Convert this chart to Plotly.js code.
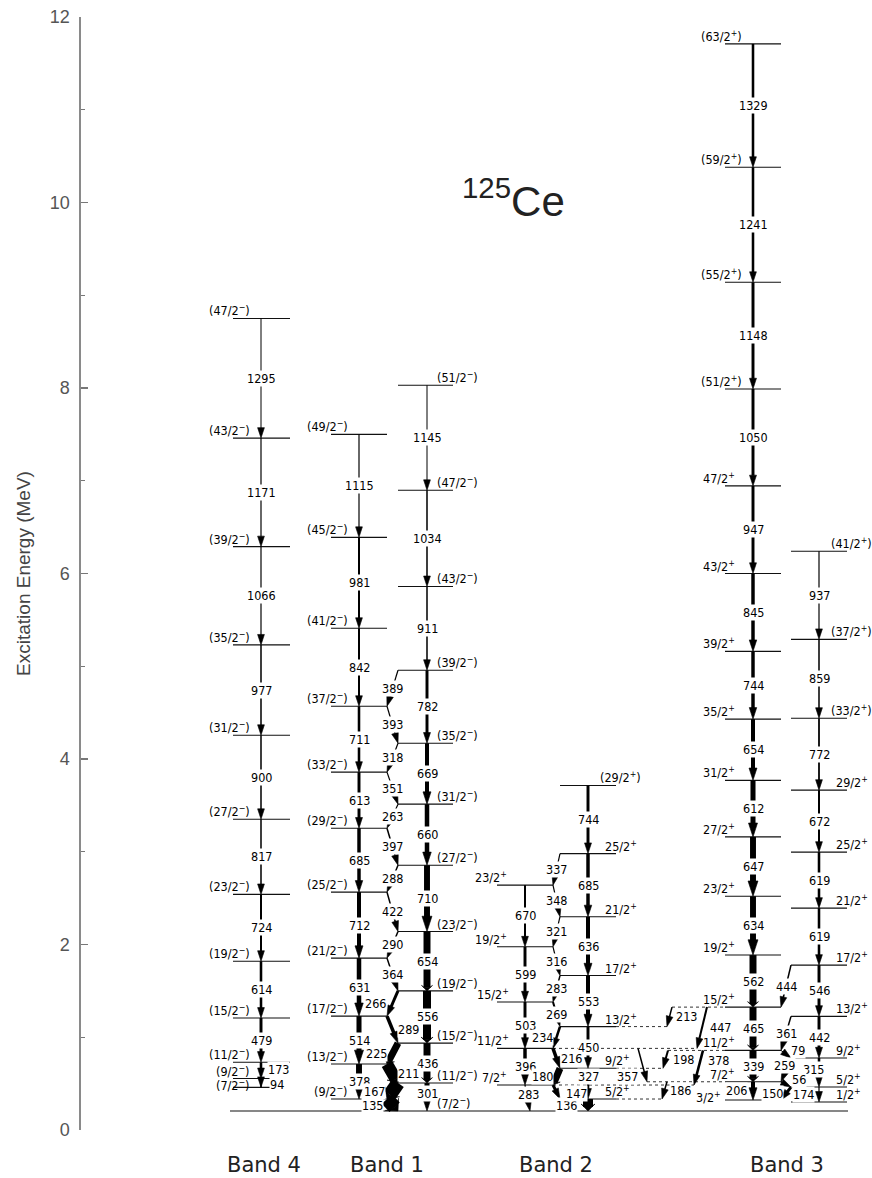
<!DOCTYPE html>
<html>
<head>
<meta charset="utf-8">
<script src="https://cdn.plot.ly/plotly-3.0.1.min.js"></script>
<style>
html,body{margin:0;padding:0;background:#ffffff;}
#chart{width:872px;height:1178px;}
</style>
</head>
<body>
<div id="chart"></div>
<script>
// ================= DATA (read from the level scheme) =================
const bandNames = ['Band 4', 'Band 1', 'Band 2', 'Band 3'];
const nucleusMass = '125';
const nucleusSymbol = 'Ce';
const axisTitle = 'Excitation Energy (MeV)';

// level spins and excitation energies (MeV, as plotted)
const band4Spins = ['(7/2-)','(9/2-)','(11/2-)','(15/2-)','(19/2-)','(23/2-)','(27/2-)','(31/2-)','(35/2-)','(39/2-)','(43/2-)','(47/2-)'];
const band4Energies = [0.46, 0.555, 0.73, 1.207, 1.82, 2.54, 3.35, 4.256, 5.23, 6.29, 7.46, 8.75];

const band1aSpins = ['(9/2-)','(13/2-)','(17/2-)','(21/2-)','(25/2-)','(29/2-)','(33/2-)','(37/2-)','(41/2-)','(45/2-)','(49/2-)'];
const band1aEnergies = [0.334, 0.711, 1.228, 1.853, 2.565, 3.254, 3.858, 4.569, 5.41, 6.39, 7.50];

const band1bSpins = ['(7/2-)','(11/2-)','(15/2-)','(19/2-)','(23/2-)','(27/2-)','(31/2-)','(35/2-)','(39/2-)','(43/2-)','(47/2-)','(51/2-)'];
const band1bEnergies = [0.205, 0.506, 0.937, 1.50, 2.14, 2.855, 3.513, 4.17, 4.957, 5.86, 6.897, 8.03];

const band2aSpins = ['7/2+','11/2+','15/2+','19/2+','23/2+'];
const band2aEnergies = [0.485, 0.88, 1.38, 1.975, 2.64];

const band2bSpins = ['5/2+','9/2+','13/2+','17/2+','21/2+','25/2+','(29/2+)'];
const band2bEnergies = [0.334, 0.665, 1.115, 1.665, 2.30, 2.98, 3.715];

const band3aSpins = ['3/2+','7/2+','11/2+','15/2+','19/2+','23/2+','27/2+','31/2+','35/2+','39/2+','43/2+','47/2+','(51/2+)','(55/2+)','(59/2+)','(63/2+)'];
const band3aEnergies = [0.323, 0.52, 0.858, 1.325, 1.886, 2.52, 3.16, 3.77, 4.43, 5.16, 6.0, 6.945, 7.99, 9.14, 10.38, 11.71];

const band3bSpins = ['1/2+','5/2+','9/2+','13/2+','17/2+','21/2+','25/2+','29/2+','(33/2+)','(37/2+)','(41/2+)'];
const band3bEnergies = [0.302, 0.463, 0.776, 1.225, 1.778, 2.392, 2.996, 3.664, 4.44, 5.29, 6.24];

// gamma transitions: energy label (keV), initial level, final level, relative intensity
const gammaEnergies = [
  1295,1171,1066,977,900,817,724,614,479,173,94,
  1115,981,842,711,613,685,712,631,514,378,
  1145,1034,911,782,669,660,710,654,556,436,301,
  389,393,318,351,263,397,288,422,290,364,266,289,225,211,167,135,
  670,599,503,396,283,
  744,685,636,553,450,327,136,
  337,348,321,316,283,269,234,216,180,147,
  1329,1241,1148,1050,947,845,744,654,612,647,634,562,465,339,206,
  937,859,772,672,619,619,546,442,315,174,
  444,361,79,259,56,150,
  213,447,198,378,357,186
];
const gammaFrom = [
  'B4|(47/2-)','B4|(43/2-)','B4|(39/2-)','B4|(35/2-)','B4|(31/2-)','B4|(27/2-)','B4|(23/2-)','B4|(19/2-)','B4|(15/2-)','B4|(11/2-)','B4|(9/2-)',
  'B1a|(49/2-)','B1a|(45/2-)','B1a|(41/2-)','B1a|(37/2-)','B1a|(33/2-)','B1a|(29/2-)','B1a|(25/2-)','B1a|(21/2-)','B1a|(17/2-)','B1a|(13/2-)',
  'B1b|(51/2-)','B1b|(47/2-)','B1b|(43/2-)','B1b|(39/2-)','B1b|(35/2-)','B1b|(31/2-)','B1b|(27/2-)','B1b|(23/2-)','B1b|(19/2-)','B1b|(15/2-)','B1b|(11/2-)',
  'B1b|(39/2-)','B1a|(37/2-)','B1b|(35/2-)','B1a|(33/2-)','B1b|(31/2-)','B1a|(29/2-)','B1b|(27/2-)','B1a|(25/2-)','B1b|(23/2-)','B1a|(21/2-)','B1b|(19/2-)','B1a|(17/2-)','B1b|(15/2-)','B1a|(13/2-)','B1b|(11/2-)','B1a|(9/2-)',
  'B2a|23/2+','B2a|19/2+','B2a|15/2+','B2a|11/2+','B2a|7/2+',
  'B2b|(29/2+)','B2b|25/2+','B2b|21/2+','B2b|17/2+','B2b|13/2+','B2b|9/2+','B2b|5/2+',
  'B2b|25/2+','B2a|23/2+','B2b|21/2+','B2a|19/2+','B2b|17/2+','B2a|15/2+','B2b|13/2+','B2a|11/2+','B2b|9/2+','B2a|7/2+',
  'B3a|(63/2+)','B3a|(59/2+)','B3a|(55/2+)','B3a|(51/2+)','B3a|47/2+','B3a|43/2+','B3a|39/2+','B3a|35/2+','B3a|31/2+','B3a|27/2+','B3a|23/2+','B3a|19/2+','B3a|15/2+','B3a|11/2+','B3a|7/2+',
  'B3b|(41/2+)','B3b|(37/2+)','B3b|(33/2+)','B3b|29/2+','B3b|25/2+','B3b|21/2+','B3b|17/2+','B3b|13/2+','B3b|9/2+','B3b|5/2+',
  'B3b|17/2+','B3b|13/2+','B3a|11/2+','B3b|9/2+','B3a|7/2+','B3b|5/2+',
  'B3a|15/2+','B3a|15/2+','B3a|11/2+','B3a|11/2+','B2a|11/2+','B3a|7/2+'
];
const gammaTo = [
  'B4|(43/2-)','B4|(39/2-)','B4|(35/2-)','B4|(31/2-)','B4|(27/2-)','B4|(23/2-)','B4|(19/2-)','B4|(15/2-)','B4|(11/2-)','B4|(9/2-)','B4|(7/2-)',
  'B1a|(45/2-)','B1a|(41/2-)','B1a|(37/2-)','B1a|(33/2-)','B1a|(29/2-)','B1a|(25/2-)','B1a|(21/2-)','B1a|(17/2-)','B1a|(13/2-)','B1a|(9/2-)',
  'B1b|(47/2-)','B1b|(43/2-)','B1b|(39/2-)','B1b|(35/2-)','B1b|(31/2-)','B1b|(27/2-)','B1b|(23/2-)','B1b|(19/2-)','B1b|(15/2-)','B1b|(11/2-)','B1b|(7/2-)',
  'B1a|(37/2-)','B1b|(35/2-)','B1a|(33/2-)','B1b|(31/2-)','B1a|(29/2-)','B1b|(27/2-)','B1a|(25/2-)','B1b|(23/2-)','B1a|(21/2-)','B1b|(19/2-)','B1a|(17/2-)','B1b|(15/2-)','B1a|(13/2-)','B1b|(11/2-)','B1a|(9/2-)','B1b|(7/2-)',
  'B2a|19/2+','B2a|15/2+','B2a|11/2+','B2a|7/2+','B1b|(7/2-)',
  'B2b|25/2+','B2b|21/2+','B2b|17/2+','B2b|13/2+','B2b|9/2+','B2b|5/2+','B1b|(7/2-)',
  'B2a|23/2+','B2b|21/2+','B2a|19/2+','B2b|17/2+','B2a|15/2+','B2b|13/2+','B2a|11/2+','B2b|9/2+','B2a|7/2+','B2b|5/2+',
  'B3a|(59/2+)','B3a|(55/2+)','B3a|(51/2+)','B3a|47/2+','B3a|43/2+','B3a|39/2+','B3a|35/2+','B3a|31/2+','B3a|27/2+','B3a|23/2+','B3a|19/2+','B3a|15/2+','B3a|11/2+','B3a|7/2+','B3a|3/2+',
  'B3b|(37/2+)','B3b|(33/2+)','B3b|29/2+','B3b|25/2+','B3b|21/2+','B3b|17/2+','B3b|13/2+','B3b|9/2+','B3b|5/2+','B3b|1/2+',
  'B3a|15/2+','B3a|11/2+','B3b|9/2+','B3a|7/2+','B3b|5/2+','B3a|3/2+',
  'B2b|13/2+','B2a|11/2+','B2b|9/2+','B2a|7/2+','B3a|7/2+','B2b|5/2+'
];
const gammaIntensity = [
  0,1.5,1.5,4,4,4,8,12,15,12,4,
  1.5,8,8,12,15,19,23,27,31,38,
  0,4,4,15,23,27,38,46,54,46,31,
  1.5,1.5,1.5,1.5,1.5,4,4,4,4,4,15,19,46,85,100,100,
  8,15,15,19,4,
  15,19,23,23,15,12,69,
  1.5,1.5,1.5,1.5,4,8,12,19,46,15,
  12,12,15,15,15,19,19,23,31,38,38,46,46,46,23,
  1.5,4,6,8,12,12,15,15,12,1.5,
  4,4,0,0,4,15,
  4,8,8,12,4,4
];
const gammaTentative = ['B3a|11/2+>B3b|9/2+', 'B3b|9/2+>B3a|7/2+'];

// ================= PRESENTATION (positions / styles) =================
const W = 872, H = 1178;
const M = {l: 81, r: 0, t: 17, b: 48};
const yRange = [0, 12];
const columns = {
  B4:  {spins: band4Spins,  energies: band4Energies,  x: 261, x0: 233, x1: 290, side: 'left'},
  B1a: {spins: band1aSpins, energies: band1aEnergies, x: 359, x0: 331, x1: 387, side: 'left'},
  B1b: {spins: band1bSpins, energies: band1bEnergies, x: 427, x0: 398, x1: 453, side: 'right'},
  B2a: {spins: band2aSpins, energies: band2aEnergies, x: 525, x0: 497, x1: 553, side: 'left'},
  B2b: {spins: band2bSpins, energies: band2bEnergies, x: 588, x0: 560, x1: 616, side: 'right'},
  B3a: {spins: band3aSpins, energies: band3aEnergies, x: 753, x0: 725, x1: 781, side: 'left'},
  B3b: {spins: band3bSpins, energies: band3bEnergies, x: 819, x0: 791, x1: 847, side: 'right'}
};
const bandLabelX = [264, 387, 556, 787];
const levelExtent = {'B1b|(7/2-)': [230, 848], 'B4|(9/2-)': [233, 270], 'B4|(7/2-)': [233, 270]};
// [dx, dy] pixel nudges of spin labels (dy > 0 = down)
const levelLabelShift = {'B4|(7/2-)': [0, 6], 'B3a|3/2+': [-14, 5], 'B2a|11/2+': [2, 0], 'B2a|15/2+': [2, 0]};
const gammaX = {
  'B2a|7/2+>B1b|(7/2-)': [525, 530],
  'B2b|5/2+>B1b|(7/2-)': [588, 588],
  'B3a|15/2+>B2b|13/2+': [672, 667],
  'B3a|15/2+>B2a|11/2+': [707, 697],
  'B3a|11/2+>B2b|9/2+': [668, 663],
  'B3a|11/2+>B2a|7/2+': [703, 694],
  'B2a|11/2+>B3a|7/2+': [638, 647],
  'B3a|7/2+>B2b|5/2+': [667, 662]
};
// [dx, dy] pixel nudges of gamma labels (dy > 0 = down)
const gammaLabelShift = {
  'B4|(11/2-)>B4|(9/2-)': [17, -1], 'B4|(9/2-)>B4|(7/2-)': [16, 2],
  'B1b|(19/2-)>B1a|(17/2-)': [-17, 0], 'B1a|(17/2-)>B1b|(15/2-)': [16, 0],
  'B1b|(15/2-)>B1a|(13/2-)': [-16, 0], 'B1a|(13/2-)>B1b|(11/2-)': [16, 0],
  'B1b|(11/2-)>B1a|(9/2-)': [-18, 0], 'B1a|(9/2-)>B1b|(7/2-)': [-20, 0],
  'B1b|(11/2-)>B1b|(7/2-)': [0, -4],
  'B2a|7/2+>B1b|(7/2-)': [1, -4], 'B2b|5/2+>B1b|(7/2-)': [-22, 0],
  'B2b|9/2+>B2b|5/2+': [0, -7],
  'B2b|13/2+>B2a|11/2+': [-14, 0], 'B2a|11/2+>B2b|9/2+': [15, 0],
  'B2b|9/2+>B2a|7/2+': [-14, 0], 'B2a|7/2+>B2b|5/2+': [20, 1],
  'B3a|15/2+>B2b|13/2+': [17, 0], 'B3a|15/2+>B2a|11/2+': [18, 0],
  'B3a|11/2+>B2b|9/2+': [18, 0], 'B3a|11/2+>B2a|7/2+': [20, -7],
  'B2a|11/2+>B3a|7/2+': [-15, 11], 'B3a|7/2+>B2b|5/2+': [16, 0],
  'B3a|7/2+>B3a|3/2+': [-17, 0], 'B3b|5/2+>B3a|3/2+': [-14, 0],
  'B3a|7/2+>B3b|5/2+': [13, -5], 'B3b|9/2+>B3a|7/2+': [-2, -4],
  'B3a|11/2+>B3b|9/2+': [12, -4], 'B3b|5/2+>B3b|1/2+': [-16, 0],
  'B3b|9/2+>B3b|5/2+': [-6, -3]
};
const INK = '#111111';
const FONT = 'Liberation Sans Narrow, DejaVu Sans Condensed, Liberation Sans, sans-serif';

// ================= BUILD =================
function spinHtml(s) {
  const m = s.match(/^(\(?)(\d+)\/2([+-])(\)?)$/);
  if (!m) return s;
  return m[1] + m[2] + '/2<sup>' + (m[3] === '-' ? '\u2212' : '+') + '</sup>' + m[4];
}
const levels = {};
Object.keys(columns).forEach(c => {
  const col = columns[c];
  col.spins.forEach((s, i) => {
    const key = c + '|' + s;
    const ext = levelExtent[key] || [col.x0, col.x1];
    levels[key] = {col: c, spin: s, E: col.energies[i], x0: ext[0], x1: ext[1], ext0: ext[0], ext1: ext[1]};
  });
});

const traces = [];
const annotations = [];

// transitions geometry
const gam = gammaEnergies.map((g, i) => {
  const f = levels[gammaFrom[i]], t = levels[gammaTo[i]];
  const key = gammaFrom[i] + '>' + gammaTo[i];
  let xs, xe;
  if (gammaX[key]) { xs = gammaX[key][0]; xe = gammaX[key][1]; }
  else if (f.col === t.col) { xs = columns[f.col].x; xe = xs; }
  else {
    const fc = columns[f.col], tc = columns[t.col];
    if (tc.x > fc.x) { xs = fc.x1; xe = tc.x0; } else { xs = fc.x0; xe = tc.x1; }
  }
  [[f, xs], [t, xe]].forEach(([lv, xx]) => {
    if (xx < lv.ext0) lv.ext0 = xx;
    if (xx > lv.ext1) lv.ext1 = xx;
  });
  return {key, f, t, xs, xe, g, I: gammaIntensity[i]};
});

// level lines
const lx = [], ly = [], ex = [], ey = [];
Object.values(levels).forEach(lv => {
  lx.push(lv.x0, lv.x1, null); ly.push(lv.E, lv.E, null);
  if (lv.ext0 < lv.x0) { ex.push(lv.ext0, lv.x0, null); ey.push(lv.E, lv.E, null); }
  if (lv.ext1 > lv.x1) { ex.push(lv.x1, lv.ext1, null); ey.push(lv.E, lv.E, null); }
});
traces.push({type: 'scatter', mode: 'lines', x: lx, y: ly, line: {color: INK, width: 1.1}, hoverinfo: 'skip', showlegend: false});
traces.push({type: 'scatter', mode: 'lines', x: ex, y: ey, line: {color: '#333', width: 1, dash: 'dot'}, hoverinfo: 'skip', showlegend: false});

// gamma arrows
gam.forEach(d => {
  const w = 1 + 0.13 * d.I;
  const thick = w >= 6;
  const sym = thick ? 'arrow-wide' : 'arrow';
  const size = thick ? (w + 4) / 1.414 : Math.max(11, (w + 4) / 0.618);
  const dotted = gammaTentative.indexOf(d.key) >= 0;
  traces.push({
    type: 'scatter', mode: 'lines+markers',
    x: [d.xs, d.xe], y: [d.f.E, d.t.E],
    line: {color: '#000', width: w, dash: dotted ? 'dot' : 'solid'},
    marker: {symbol: sym, size: [0, size], angleref: 'previous', color: '#000', opacity: 1,
             line: {width: 0.6, color: '#000'}},
    hoverinfo: 'skip', showlegend: false
  });
  const sh = gammaLabelShift[d.key] || [0, 0];
  annotations.push({
    x: (d.xs + d.xe) / 2 + sh[0], y: (d.f.E + d.t.E) / 2, yshift: -sh[1],
    xref: 'x', yref: 'y', text: String(d.g), showarrow: false,
    font: {family: FONT, size: 12.5, color: '#000'}, bgcolor: '#ffffff', borderpad: 0,
    xanchor: 'center', yanchor: 'middle'
  });
});

// level labels
Object.keys(levels).forEach(k => {
  const lv = levels[k], col = columns[lv.col];
  const paren = lv.spin.charAt(0) === '(';
  const sh = levelLabelShift[k] || [0, 0];
  const ys = 8 - sh[1];
  if (col.side === 'left') {
    annotations.push({x: col.x0 + (paren ? 19 : 12) + sh[0], y: lv.E, xref: 'x', yref: 'y', yshift: ys,
      text: spinHtml(lv.spin), showarrow: false, xanchor: 'right', yanchor: 'middle',
      font: {family: FONT, size: 12.5, color: '#000'}});
  } else {
    annotations.push({x: col.x1 - (paren ? 18 : 13) + sh[0], y: lv.E, xref: 'x', yref: 'y', yshift: ys,
      text: spinHtml(lv.spin), showarrow: false, xanchor: 'left', yanchor: 'middle',
      font: {family: FONT, size: 12.5, color: '#000'}});
  }
});

// band names
bandNames.forEach((b, i) => {
  annotations.push({x: bandLabelX[i], y: -35 / (H - M.t - M.b), xref: 'x', yref: 'paper',
    text: b, showarrow: false, xanchor: 'center', yanchor: 'middle',
    font: {family: 'DejaVu Sans, sans-serif', size: 21, color: '#222'}});
});

// nucleus title
annotations.push({x: 513, y: 10.05, xref: 'x', yref: 'y', showarrow: false,
  text: '<sup>' + nucleusMass + '</sup>' + nucleusSymbol, xanchor: 'center', yanchor: 'middle',
  font: {family: 'Liberation Sans, Arial, sans-serif', size: 42, color: '#222'}});

const layout = {
  width: W, height: H,
  margin: M,
  paper_bgcolor: '#ffffff', plot_bgcolor: '#ffffff',
  showlegend: false,
  xaxis: {range: [M.l, W - M.r], visible: false, fixedrange: true},
  yaxis: {
    range: yRange, tickvals: [0, 2, 4, 6, 8, 10, 12], ticks: 'inside', ticklen: 7, tickwidth: 1.2,
    tickcolor: '#777', showline: true, linecolor: '#8a8a8a', linewidth: 1.6, showgrid: false, zeroline: false,
    tickfont: {family: 'Liberation Sans, Arial, sans-serif', size: 18, color: '#555'},
    ticklabelstandoff: 6,
    minor: {tickvals: [1, 3, 5, 7, 9, 11], ticks: 'inside', ticklen: 4, tickwidth: 1, tickcolor: '#777', showgrid: false},
    title: {text: axisTitle, font: {family: 'Liberation Sans, Arial, sans-serif', size: 19, color: '#444'}, standoff: 14},
    automargin: false, fixedrange: true
  },
  annotations: annotations
};

Plotly.newPlot('chart', traces, layout, {displayModeBar: false, staticPlot: true});
</script>
</body>
</html>
